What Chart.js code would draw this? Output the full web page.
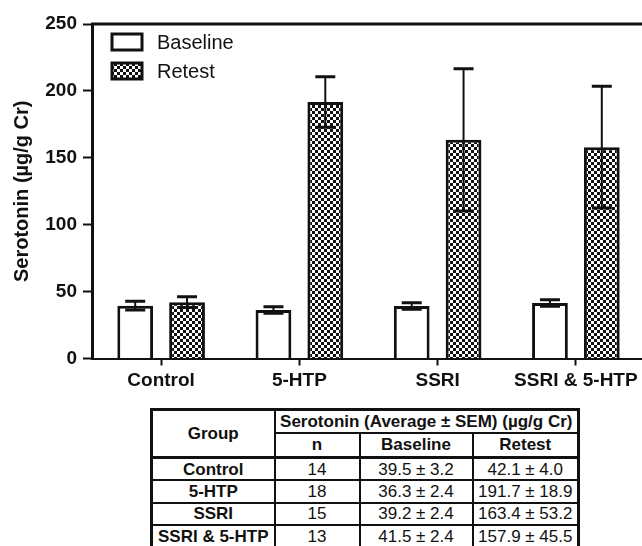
<!DOCTYPE html>
<html><head><meta charset="utf-8">
<script src="https://cdn.jsdelivr.net/npm/chart.js@4.4.1/dist/chart.umd.min.js"></script>
<style>
html,body{margin:0;padding:0;background:#fff;width:642px;height:546px;overflow:hidden;}
#wrap{position:absolute;left:0;top:0;width:642px;height:402px;overflow:hidden;}
#c{display:block;width:648px;height:400px;}
table{position:absolute;left:150px;top:408px;border-collapse:collapse;font-family:"Liberation Sans",Arial,sans-serif;font-size:17px;color:#111;table-layout:fixed;border:3px solid #111;}
td,th{padding:0;text-align:center;border:2px solid #111;line-height:19px;white-space:nowrap;overflow:hidden;}
th{font-weight:bold;}
td.g{font-weight:bold;}
tr.h2 th{border-bottom:3px solid #111;}
</style></head><body>
<div id="wrap"><canvas id="c" width="648" height="400"></canvas></div>
<table id="tbl">
<colgroup><col style="width:123px"><col style="width:85px"><col style="width:113px"><col style="width:106px"></colgroup>
<thead>
<tr style="height:23px"><th rowspan="2" style="border-bottom:3px solid #111">Group</th><th colspan="3">Serotonin (Average ± SEM) (µg/g Cr)</th></tr>
<tr class="h2" style="height:25px"><th>n</th><th>Baseline</th><th>Retest</th></tr>
</thead>
<tbody id="tb"></tbody>
</table>
<script>
const categories = ['Control', '5-HTP', 'SSRI', 'SSRI & 5-HTP'];
const nValues = [14, 18, 15, 13];
const baselineMean = [39.5, 36.3, 39.2, 41.5];
const baselineSem = [3.2, 2.4, 2.4, 2.4];
const retestMean = [42.1, 191.7, 163.4, 157.9];
const retestSem = [4.0, 18.9, 53.2, 45.5];
const seriesNames = ['Baseline', 'Retest'];
const yMin = 0, yMax = 250, yStep = 50;

// table
const tb = document.getElementById('tb');
categories.forEach((g, i) => {
  const tr = document.createElement('tr');
  tr.style.height = '22.5px';
  tr.innerHTML = '<td class="g">' + g + '</td><td>' + nValues[i] + '</td><td>' +
    baselineMean[i].toFixed(1) + ' ± ' + baselineSem[i].toFixed(1) + '</td><td>' +
    retestMean[i].toFixed(1) + ' ± ' + retestSem[i].toFixed(1) + '</td>';
  tb.appendChild(tr);
});

const canvas = document.getElementById('c');
const ctx0 = canvas.getContext('2d');
const pc = document.createElement('canvas');
pc.width = 6; pc.height = 6;
const p = pc.getContext('2d');
p.fillStyle = '#111'; p.fillRect(0, 0, 6, 6);
p.fillStyle = '#fff'; p.fillRect(0, 0, 3, 3); p.fillRect(3, 3, 3, 3);
const pattern = ctx0.createPattern(pc, 'repeat');

const FONT = '"Liberation Sans", Arial, Helvetica, sans-serif';
Chart.defaults.font.family = FONT;
Chart.defaults.color = '#111';

const errorBars = {
  id: 'errorBars',
  afterDatasetsDraw(chart) {
    const ctx = chart.ctx, y = chart.scales.y;
    chart.data.datasets.forEach((ds, i) => {
      const meta = chart.getDatasetMeta(i);
      meta.data.forEach((bar, j) => {
        const v = ds.data[j], e = ds.errors[j];
        const x = bar.x, yt = y.getPixelForValue(v + e), yb = y.getPixelForValue(v - e);
        ctx.save();
        ctx.strokeStyle = '#111';
        ctx.lineWidth = 2;
        ctx.beginPath(); ctx.moveTo(x, yt); ctx.lineTo(x, yb); ctx.stroke();
        ctx.lineWidth = 3;
        ctx.beginPath();
        ctx.moveTo(x - 10, yt); ctx.lineTo(x + 10, yt);
        ctx.moveTo(x - 10, yb); ctx.lineTo(x + 10, yb);
        ctx.stroke();
        ctx.restore();
      });
    });
  }
};

const frameAndLegend = {
  id: 'frameAndLegend',
  afterDraw(chart) {
    const ctx = chart.ctx, a = chart.chartArea;
    ctx.save();
    ctx.strokeStyle = '#111';
    ctx.lineWidth = 3;
    ctx.beginPath(); ctx.moveTo(a.left - 1, a.top); ctx.lineTo(chart.width, a.top); ctx.stroke();
    // legend
    chart.data.datasets.forEach((ds, i) => {
      const bx = 112, by = 34 + i * 29, bw = 30, bh = 16;
      ctx.fillStyle = ds.backgroundColor;
      ctx.fillRect(bx, by, bw, bh);
      ctx.lineWidth = 3;
      ctx.strokeStyle = '#111';
      ctx.strokeRect(bx, by, bw, bh);
      ctx.fillStyle = '#111';
      ctx.font = '20px ' + FONT;
      ctx.textBaseline = 'middle';
      ctx.textAlign = 'left';
      ctx.fillText(ds.label, 157, by + bh / 2 + 1);
    });
    ctx.restore();
  }
};

new Chart(canvas, {
  type: 'bar',
  data: {
    labels: categories,
    datasets: [
      { label: seriesNames[0], data: baselineMean, errors: baselineSem,
        backgroundColor: '#ffffff', borderColor: '#111', borderWidth: 3 },
      { label: seriesNames[1], data: retestMean, errors: retestSem,
        backgroundColor: pattern, borderColor: '#111', borderWidth: 3 }
    ]
  },
  options: {
    responsive: false,
    animation: false,
    categoryPercentage: 0.75,
    barPercentage: 0.69,
    layout: { padding: { left: 0, top: 24, right: 3, bottom: 0 } },
    plugins: { legend: { display: false }, tooltip: { enabled: false } },
    scales: {
      x: {
        offset: true,
        grid: { offset: false, drawOnChartArea: false, drawTicks: true, tickLength: 7, tickWidth: 2, tickColor: '#111' },
        border: { display: true, color: '#111', width: 2 },
        ticks: { font: { size: 19, weight: 'bold' }, color: '#111', padding: 4, maxRotation: 0, autoSkip: false },
        afterFit(s) { s.height = 41.5; }
      },
      y: {
        min: yMin, max: yMax,
        grid: { drawOnChartArea: false, drawTicks: true, tickLength: 9, tickWidth: 2, tickColor: '#111' },
        border: { display: true, color: '#111', width: 3 },
        ticks: { stepSize: yStep, font: { size: 19, weight: 'bold' }, color: '#111', padding: 6 },
        title: { display: true, text: 'Serotonin (µg/g Cr)', font: { size: 20, weight: 'bold' }, color: '#111', padding: { top: 10, bottom: 0 } },
        afterFit(s) { s.width = 92; }
      }
    }
  },
  plugins: [errorBars, frameAndLegend]
});
</script>
</body></html>
